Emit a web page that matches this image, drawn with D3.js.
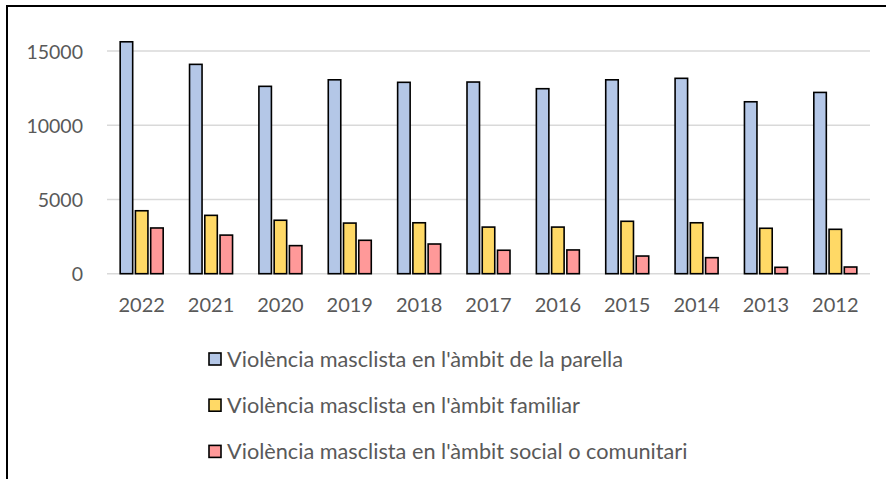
<!DOCTYPE html>
<html>
<head>
<meta charset="utf-8">
<script src="https://cdn.jsdelivr.net/npm/d3@7"></script>
<style>
  body { margin: 0; background: #fff; }
  text { font-family: Lato, "Open Sans", sans-serif; fill: #595959; }
</style>
</head>
<body>
<script>
//Data
const years = ["2022", "2021", "2020", "2019", "2018", "2017", "2016", "2015", "2014", "2013", "2012"];
const seriesNames = [
  "Violència masclista en l'àmbit de la parella",
  "Violència masclista en l'àmbit familiar",
  "Violència masclista en l'àmbit social o comunitari"
];
const parella  = [15620, 14100, 12620, 13060, 12890, 12910, 12460, 13060, 13160, 11580, 12210];
const familiar = [4240, 3930, 3600, 3410, 3430, 3140, 3140, 3530, 3430, 3060, 2990];
const social   = [3080, 2600, 1890, 2250, 2000, 1580, 1600, 1190, 1080, 430, 450];
const yTicks = [0, 5000, 10000, 15000];

//Variables
const width = 886;
const height = 479;
const colors = ["#B4C7E7", "#FFD966", "#FF9999"];
const seriesValues = [parella, familiar, social];

const svg = d3.select("body")
  .append("svg")
  .attr("width", width)
  .attr("height", height);

//Frame (only top and left edges visible)
svg.append("path")
  .attr("d", `M7,${height} V6 H${width}`)
  .attr("fill", "none")
  .attr("stroke", "#000")
  .attr("stroke-width", 2);

//Scales
const xScale = d3.scaleBand()
  .domain(years)
  .range([107, 870])
  .paddingInner(0.38)
  .paddingOuter(0.19);

const innerScale = d3.scaleBand()
  .domain(d3.range(seriesNames.length))
  .range([0, xScale.bandwidth()])
  .paddingInner(0.18);

const yScale = d3.scaleLinear()
  .domain([0, 15000])
  .range([273.7, 51]);

//Grid
svg.append("g")
  .selectAll("line")
  .data(yTicks)
  .join("line")
  .attr("x1", 107)
  .attr("x2", 870)
  .attr("y1", d => yScale(d))
  .attr("y2", d => yScale(d))
  .attr("stroke", "#D9D9D9")
  .attr("stroke-width", 1.5);

//Y axis labels
const yAxis = d3.axisLeft(yScale).tickValues(yTicks).tickSize(0).tickPadding(0).tickFormat(d3.format("d"));
svg.append("g")
  .attr("transform", "translate(83,0)")
  .call(yAxis)
  .call(g => g.select(".domain").remove())
  .call(g => g.selectAll("text")
    .attr("dy", "0.36em")
    .style("font-size", "19.5px")
    .attr("fill", "#595959"));

//X axis labels
const xAxis = d3.axisBottom(xScale).tickSize(0).tickPadding(0);
svg.append("g")
  .attr("transform", "translate(0,298)")
  .call(xAxis)
  .call(g => g.select(".domain").remove())
  .call(g => g.selectAll("text")
    .attr("dy", "0.72em")
    .style("font-size", "20px")
    .attr("fill", "#595959"));

//Bars
const groups = svg.append("g")
  .selectAll("g")
  .data(years)
  .join("g")
  .attr("transform", d => `translate(${xScale(d)},0)`);

groups.selectAll("rect")
  .data((d, i) => seriesValues.map((vals, s) => ({ s, v: vals[i] })))
  .join("rect")
  .attr("x", d => innerScale(d.s))
  .attr("y", d => yScale(d.v))
  .attr("width", innerScale.bandwidth())
  .attr("height", d => yScale(0) - yScale(d.v))
  .attr("fill", d => colors[d.s])
  .attr("stroke", "#000")
  .attr("stroke-width", 1.6);

//Legend
const legend = svg.append("g")
  .selectAll("g")
  .data(seriesNames)
  .join("g")
  .attr("transform", (d, i) => `translate(209,${359 + i * 46.2})`);

legend.append("rect")
  .attr("x", 0)
  .attr("y", -6)
  .attr("width", 12)
  .attr("height", 12)
  .attr("fill", (d, i) => colors[i])
  .attr("stroke", "#000")
  .attr("stroke-width", 1.6);

legend.append("text")
  .attr("x", 18)
  .attr("y", 0)
  .attr("dy", "0.36em")
  .style("font-size", "21.7px")
  .text(d => d);
</script>
</body>
</html>
